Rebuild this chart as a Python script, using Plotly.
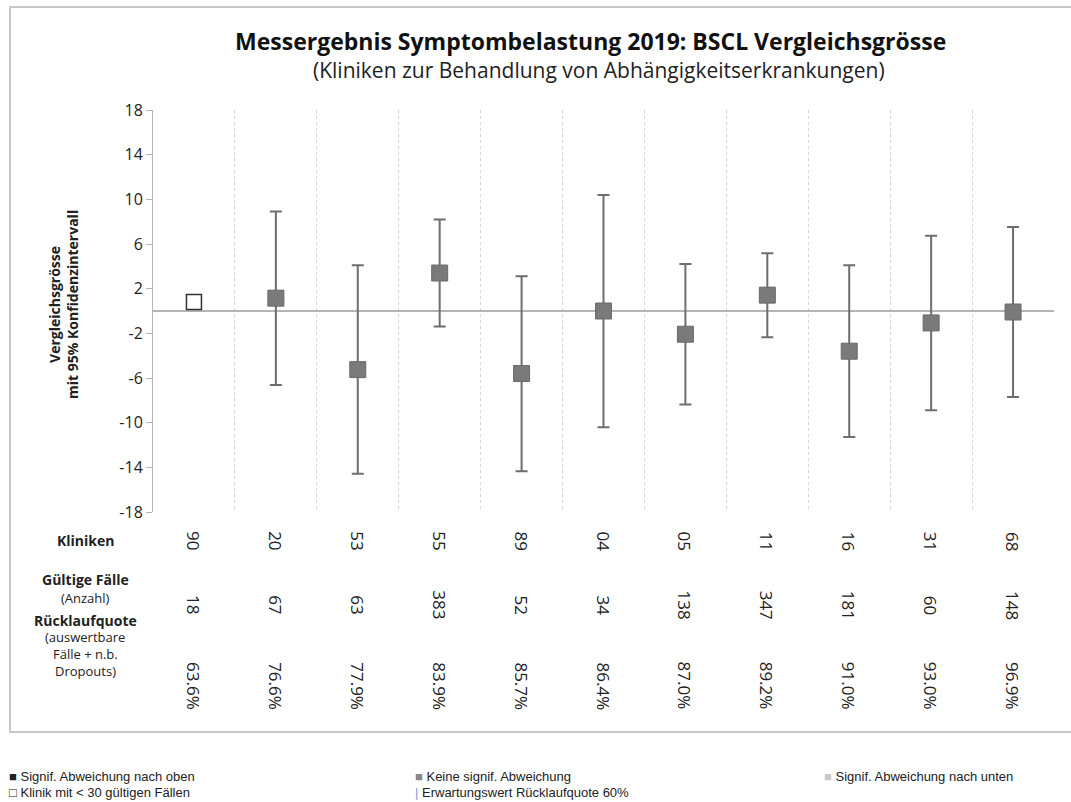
import plotly.graph_objects as go

kliniken = ["90", "20", "53", "55", "89", "04", "05", "11", "16", "31", "68"]
faelle = ["18", "67", "63", "383", "52", "34", "138", "347", "181", "60", "148"]
ruecklauf = ["63.6%", "76.6%", "77.9%", "83.9%", "85.7%", "86.4%", "87.0%", "89.2%", "91.0%", "93.0%", "96.9%"]
werte = [0.8, 1.15, -5.25, 3.4, -5.6, 0.0, -2.08, 1.42, -3.6, -1.07, -0.09]
ci_oben = [None, 8.92, 4.09, 8.2, 3.11, 10.38, 4.22, 5.17, 4.09, 6.75, 7.52]
ci_unten = [None, -6.63, -14.58, -1.39, -14.34, -10.41, -8.38, -2.34, -11.28, -8.89, -7.70]
kleine_n = [True] + [False] * 10
yticks = [18, 14, 10, 6, 2, -2, -6, -10, -14, -18]

FONT = "Open Sans, Noto Sans, DejaVu Sans, sans-serif"
NARROW = "Liberation Sans Narrow, Liberation Sans, Arial, sans-serif"

idx_open = [i for i, s in enumerate(kleine_n) if s]
idx_fill = [i for i, s in enumerate(kleine_n) if not s]

fig = go.Figure()
fig.add_trace(go.Scatter(
    x=idx_fill,
    y=[werte[i] for i in idx_fill],
    mode="markers",
    marker=dict(symbol="square", size=16, color="#7a7a7a", line=dict(color="#6a6a6a", width=1)),
    error_y=dict(
        type="data", symmetric=False,
        array=[ci_oben[i] - werte[i] for i in idx_fill],
        arrayminus=[werte[i] - ci_unten[i] for i in idx_fill],
        color="#6e6e6e", thickness=2, width=6,
    ),
    showlegend=False, hoverinfo="skip",
))
fig.add_trace(go.Scatter(
    x=idx_open,
    y=[werte[i] for i in idx_open],
    mode="markers",
    marker=dict(symbol="square", size=15, color="white", line=dict(color="#333333", width=1.5)),
    showlegend=False, hoverinfo="skip",
))

L, R, T, B = 153, 17, 110, 290
W, H = 1071, 802
pw, ph = W - L - R, H - T - B

def px(xpix):
    return (xpix - L) / pw

def py(ypix):
    return (H - B - ypix) / ph

ann = []
rows = [(541, kliniken), (605, faelle), (686, ruecklauf)]
for ypix, vals in rows:
    for i, v in enumerate(vals):
        ann.append(dict(x=i, xref="x", y=py(ypix), yref="paper", text=v, showarrow=False,
                        textangle=90, font=dict(family=FONT, size=17, color="#222"),
                        xanchor="center", yanchor="middle"))

labels = [
    (540, "<b>Kliniken</b>", 14),
    (579, "<b>Gültige Fälle</b>", 14),
    (598, "(Anzahl)", 13),
    (620, "<b>Rücklaufquote</b>", 14),
    (637, "(auswertbare", 13),
    (654, "Fälle + n.b.", 13),
    (671, "Dropouts)", 13),
]
for ypix, t, s in labels:
    ann.append(dict(x=px(85), xref="paper", y=py(ypix), yref="paper", text=t, showarrow=False,
                    font=dict(family=FONT, size=s, color="#222"), xanchor="center", yanchor="middle"))

ann.append(dict(x=px(590), xref="paper", y=py(41), yref="paper",
                text="<b>Messergebnis Symptombelastung 2019: BSCL Vergleichsgrösse</b>",
                showarrow=False, font=dict(family=FONT, size=23, color="#111"),
                xanchor="center", yanchor="middle"))
ann.append(dict(x=px(599), xref="paper", y=py(70), yref="paper",
                text="(Kliniken zur Behandlung von Abhängigkeitserkrankungen)",
                showarrow=False, font=dict(family=FONT, size=21, color="#222"),
                xanchor="center", yanchor="middle"))
ann.append(dict(x=px(63), xref="paper", y=py(305), yref="paper",
                text="<b>Vergleichsgrösse<br>mit 95% Konfidenzintervall</b>",
                showarrow=False, textangle=-90, font=dict(family=FONT, size=14, color="#222"),
                xanchor="center", yanchor="middle"))

legend_items = [
    (7, 776, "<span style='color:#222'>■</span> Signif. Abweichung nach oben"),
    (7, 792, "<span style='color:#222'>□</span> Klinik mit &lt; 30 gültigen Fällen"),
    (413, 776, "<span style='color:#888'>■</span> Keine signif. Abweichung"),
    (413, 792, "<span style='color:#7aa0d0'>|</span> Erwartungswert Rücklaufquote 60%"),
    (822, 776, "<span style='color:#c8c8c8'>■</span> Signif. Abweichung nach unten"),
]
for xpix, ypix, t in legend_items:
    ann.append(dict(x=px(xpix), xref="paper", y=py(ypix), yref="paper", text=t, showarrow=False,
                    font=dict(family=NARROW, size=13, color="#222"), xanchor="left", yanchor="middle"))

fig.update_layout(
    width=W, height=H,
    margin=dict(l=L, r=R, t=T, b=B),
    paper_bgcolor="white", plot_bgcolor="white",
    annotations=ann,
    hovermode=False,
    shapes=[dict(type="rect", xref="paper", yref="paper",
                 x0=px(10), x1=px(1080), y0=py(732), y1=py(7),
                 line=dict(color="#c8c8c8", width=2), fillcolor="rgba(0,0,0,0)", layer="below")],
    xaxis=dict(
        range=[-0.5, 10.5], tickvals=[i + 0.5 for i in range(-1, 11)],
        showticklabels=False, ticks="", showgrid=True, griddash="dot",
        gridcolor="#d4d4d4", gridwidth=1, zeroline=False, showline=False, fixedrange=True,
    ),
    yaxis=dict(
        range=[-18, 18], tickvals=yticks, ticktext=[str(v) for v in yticks],
        showgrid=False, zeroline=True, zerolinecolor="#b4b4b4", zerolinewidth=2,
        showline=True, linecolor="#b4b4b4", linewidth=1,
        ticks="outside", ticklen=6, tickcolor="#b4b4b4", fixedrange=True,
        tickfont=dict(family=FONT, size=16, color="#222"),
    ),
)

fig.write_html("out.html", config={"displayModeBar": False},
               post_script="document.body.style.margin='0px';document.body.style.overflow='hidden';")
